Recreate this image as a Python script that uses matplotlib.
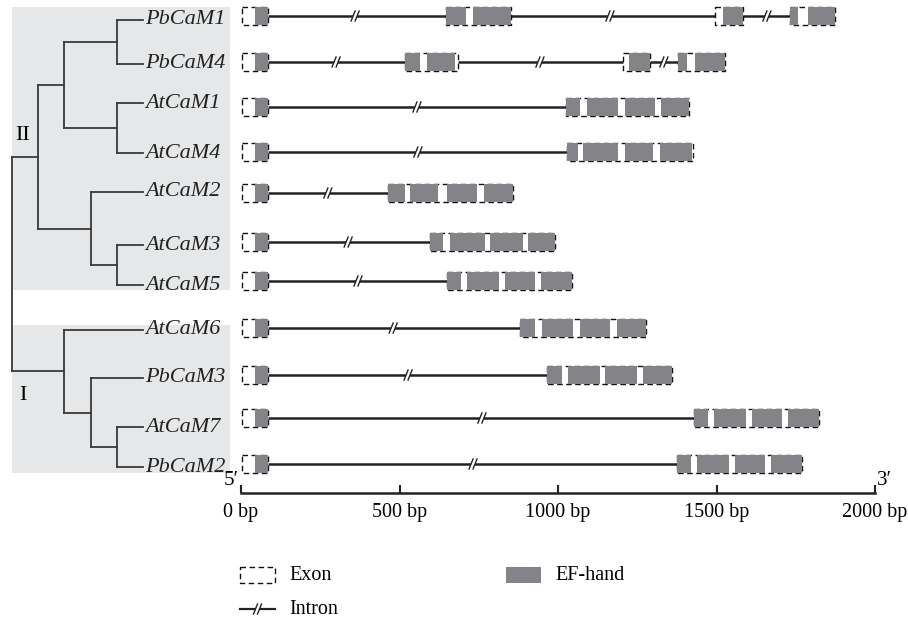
import matplotlib
matplotlib.use("Agg")
import matplotlib.pyplot as plt
from matplotlib.patches import Rectangle

plt.rcParams['font.family'] = ['Liberation Serif', 'DejaVu Serif']

# ---------------- data ----------------
genes = ["PbCaM1", "PbCaM4", "AtCaM1", "AtCaM4", "AtCaM2", "AtCaM3",
         "AtCaM5", "AtCaM6", "PbCaM3", "AtCaM7", "PbCaM2"]

# exon coordinates (bp), one list per gene (same order as genes)
exons = [
    [(3, 85), (647, 852), (1495, 1584), (1732, 1874)],
    [(3, 85), (517, 685), (1205, 1290), (1379, 1527)],
    [(3, 85), (1025, 1413)],
    [(3, 85), (1028, 1426)],
    [(3, 85), (464, 858)],
    [(3, 85), (596, 991)],
    [(3, 85), (650, 1044)],
    [(3, 85), (880, 1278)],
    [(3, 85), (965, 1360)],
    [(3, 85), (1429, 1823)],
    [(3, 85), (1375, 1770)],
]

# EF-hand segments (bp)
ef_hands = [
    [(44, 85), (647, 710), (732, 852), (1521, 1584), (1732, 1757), (1789, 1874)],
    [(44, 85), (517, 565), (587, 675), (1224, 1290), (1379, 1407), (1432, 1527)],
    [(44, 85), (1025, 1069), (1091, 1189), (1211, 1306), (1325, 1413)],
    [(44, 85), (1028, 1063), (1079, 1189), (1211, 1300), (1322, 1423)],
    [(44, 85), (464, 517), (533, 621), (650, 744), (767, 858)],
    [(44, 85), (596, 637), (659, 770), (785, 890), (905, 991)],
    [(44, 85), (650, 694), (713, 814), (833, 927), (946, 1044)],
    [(44, 85), (880, 927), (950, 1047), (1069, 1164), (1186, 1278)],
    [(44, 85), (965, 1013), (1032, 1132), (1148, 1249), (1268, 1360)],
    [(44, 85), (1429, 1473), (1492, 1593), (1612, 1707), (1726, 1823)],
    [(44, 85), (1375, 1420), (1439, 1540), (1558, 1653), (1672, 1770)],
]

# intron break marks (bp)
intron_breaks = [
    [360, 1164, 1659],
    [300, 943, 1334],
    [555], [558], [274], [338], [369], [480], [527], [760], [732],
]

scale_ticks = [0, 500, 1000, 1500, 2000]
scale_labels = ["0 bp", "500 bp", "1000 bp", "1500 bp", "2000 bp"]

# tree topology: (node level, children); leaves are names
tree = (0, [(1, [(2, [(4, ["PbCaM1", "PbCaM4"]), (4, ["AtCaM1", "AtCaM4"])]),
                 (3, ["AtCaM2", (4, ["AtCaM3", "AtCaM5"])])]),
            (2, ["AtCaM6", (3, ["PbCaM3", (4, ["AtCaM7", "PbCaM2"])])])])
group_labels = ["II", "I"]

# ---------------- layout ----------------
W, H = 908, 620
fig = plt.figure(figsize=(W / 100, H / 100), dpi=100)
fig.patch.set_facecolor("white")

ax_px = fig.add_axes([0, 0, 1, 1])
ax_px.set_xlim(0, W)
ax_px.set_ylim(H, 0)
ax_px.axis("off")

x0_px, x1_px, axis_y = 241, 875, 493
ax = fig.add_axes([x0_px / W, (H - axis_y) / H, (x1_px - x0_px) / W, axis_y / H])
ax.set_xlim(0, 2000)
ax.set_ylim(axis_y, 0)
ax.patch.set_visible(False)
for s in ["top", "right", "left"]:
    ax.spines[s].set_visible(False)
ax.spines["bottom"].set_linewidth(1.8)
ax.spines["bottom"].set_color("#222222")
ax.set_yticks([])
ax.set_xticks(scale_ticks)
ax.set_xticklabels(scale_labels, fontsize=14.5)
ax.tick_params(axis="x", direction="in", length=6, width=1.5, color="#222222", pad=7)

gene_rows = [16, 62, 107, 152, 193, 242, 281, 328, 375, 418, 464]
leaf_rows = [20, 64, 103, 153, 192, 245, 285, 330, 378, 427, 467]
k = 2000 / (x1_px - x0_px)  # bp per pixel
ef_color = "#848488"
line_color = "#222222"
box_h = 18


def draw_break(a, x, y, kx):
    a.plot([x - 1.8 * kx, x + 1.8 * kx], [y, y], color="white", lw=3, zorder=4, solid_capstyle="butt")
    for dx in (-2.0, 2.0):
        a.plot([x + (dx - 2) * kx, x + (dx + 2) * kx], [y + 5, y - 5],
               color=line_color, lw=1.0, zorder=5)


for gi, g in enumerate(genes):
    y = gene_rows[gi]
    ex = exons[gi]
    for (s0, e0), (s1, e1) in zip(ex[:-1], ex[1:]):
        ax.plot([e0, s1], [y, y], color=line_color, lw=1.8, zorder=2, solid_capstyle="butt")
    for s, e in ex:
        ax.add_patch(Rectangle((s, y - box_h / 2), e - s, box_h, fill=False,
                               edgecolor="#111111", lw=1.0, ls=(0, (4, 2.5)), zorder=3))
    for s, e in ef_hands[gi]:
        ax.add_patch(Rectangle((s, y - box_h / 2), e - s, box_h, facecolor=ef_color,
                               edgecolor="none", zorder=4))
    for b in intron_breaks[gi]:
        draw_break(ax, b, y, k)

# 5' / 3'
ax_px.text(239, 490, "5\u2032", ha="right", va="bottom", fontsize=15)
ax_px.text(877, 490, "3\u2032", ha="left", va="bottom", fontsize=15)

# ---------------- tree ----------------
ax_px.add_patch(Rectangle((12, 7), 218, 283, facecolor="#e6e7e8", edgecolor="none", zorder=0))
ax_px.add_patch(Rectangle((12, 325), 218, 148, facecolor="#e6e7e8", edgecolor="none", zorder=0))

leaf_x = 143
level_x = lambda lv: 12 + 26.2 * lv
tree_color = "#3a3a3a"
tlw = 1.3


def draw_node(node):
    if isinstance(node, str):
        y = leaf_rows[genes.index(node)]
        ax_px.text(leaf_x + 2, y, node, ha="left", va="center", fontsize=16,
                   style="italic", color="#222222")
        return leaf_x, y
    lv, children = node
    x = level_x(lv)
    pts = [draw_node(c) for c in children]
    ys = [p[1] for p in pts]
    for cx, cy in pts:
        ax_px.plot([x, cx], [cy, cy], color=tree_color, lw=tlw, zorder=2)
    ax_px.plot([x, x], [min(ys), max(ys)], color=tree_color, lw=tlw, zorder=2)
    return x, (min(ys) + max(ys)) / 2


draw_node(tree)
ax_px.text(23, 135, group_labels[0], ha="center", va="center", fontsize=16)
ax_px.text(23, 395, group_labels[1], ha="center", va="center", fontsize=16)

# ---------------- legend ----------------
ax_px.add_patch(Rectangle((240, 567), 35, 16, fill=False, edgecolor="#111111",
                          lw=1.0, ls=(0, (4, 2.5))))
ax_px.text(289, 575, "Exon", ha="left", va="center", fontsize=14.5)
ax_px.add_patch(Rectangle((506, 567), 35, 16, facecolor=ef_color, edgecolor="none"))
ax_px.text(555, 575, "EF-hand", ha="left", va="center", fontsize=14.5)
ax_px.plot([240, 275], [609, 609], color=line_color, lw=1.6)
draw_break(ax_px, 257.5, 609, 1.0)
ax_px.text(289, 609, "Intron", ha="left", va="center", fontsize=14.5)

fig.savefig("out.png", dpi=100)
